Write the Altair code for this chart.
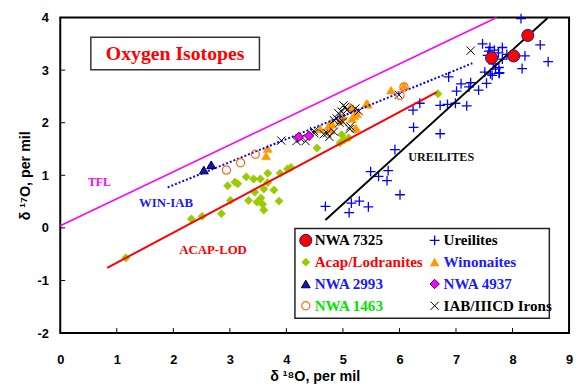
import altair as alt
import pandas as pd

# ---------------- data ----------------
nwa7325_x = [7.63, 8.02, 8.27]
nwa7325_y = [3.23, 3.27, 3.66]

ureil_x = [8.15, 7.47, 7.60, 7.82, 8.49, 8.63, 8.22, 8.17, 7.56, 7.82, 7.51, 7.61, 7.76, 7.70,
           7.09, 7.26, 7.23, 7.40, 7.54, 7.01, 7.19, 6.87, 6.72, 6.85, 6.99, 6.36, 6.24, 6.25,
           6.72, 5.92, 5.49, 5.63, 5.80, 5.78, 6.01, 4.69, 5.15, 5.29, 5.11, 5.45,
           7.68, 7.75, 7.90, 7.66, 7.58, 7.76, 7.64, 7.77]
ureil_y = [3.98, 3.50, 3.43, 3.43, 3.48, 3.16, 3.27, 3.03, 3.28, 3.21, 2.96, 2.93, 2.94, 3.02,
           2.74, 2.76, 2.68, 2.62, 2.75, 2.60, 2.32, 2.87, 2.33, 2.35, 2.37, 2.37, 2.24, 1.91,
           1.79, 1.49, 1.07, 0.98, 1.09, 0.90, 0.63, 0.41, 0.47, 0.51, 0.29, 0.40,
           3.38, 3.33, 3.30, 3.12, 3.36, 3.05, 2.90, 2.95]

acap_x = [1.16, 2.32, 2.51, 2.85, 2.96, 3.01, 3.09, 3.14, 3.29, 3.33, 3.42, 3.44, 3.48, 3.54,
          3.55, 3.58, 3.60, 3.67, 3.60, 3.67, 3.78, 3.87, 3.89, 4.02, 4.08, 4.54, 4.98, 5.02,
          5.10, 5.22, 4.95, 6.68]
acap_y = [-0.57, 0.17, 0.22, 0.27, 0.80, 0.52, 0.87, 0.84, 0.97, 0.52, 0.93, 0.68, 0.49, 0.93,
          0.57, 0.45, 0.74, 1.04, 0.34, 0.86, 0.72, 0.51, 1.04, 1.12, 1.15, 1.52, 1.77, 1.67,
          1.71, 1.87, 1.62, 2.55]

win_x = [3.67, 3.64, 4.60, 4.74, 4.79, 4.81, 4.78, 5.16, 5.18, 5.25, 5.20, 5.13, 5.42, 5.44,
         5.23, 5.85, 6.08, 4.95, 5.00]
win_y = [1.51, 1.37, 1.88, 1.93, 2.00, 1.97, 1.87, 2.08, 2.27, 2.17, 2.13, 2.30, 2.37, 2.35,
         1.90, 2.62, 2.70, 2.05, 2.12]

nwa2993_x = [2.54, 2.67]
nwa2993_y = [1.10, 1.20]

nwa1463_x = [2.94, 3.19, 3.45, 6.01, 6.08]
nwa1463_y = [1.10, 1.24, 1.40, 2.52, 2.68]

nwa4937_x = [4.22, 4.40]
nwa4937_y = [1.73, 1.75]

iab_x = [3.91, 4.18, 4.34, 4.49, 4.49, 4.72, 4.84, 4.89, 4.98, 5.01, 4.92, 5.07, 5.13, 5.00,
         5.04, 5.22, 5.28, 4.84, 4.94, 4.66, 4.76, 5.99, 7.26, 4.25, 5.12]
iab_y = [1.66, 1.65, 1.65, 1.84, 1.80, 1.80, 1.83, 2.08, 2.21, 2.33, 2.18, 2.24, 1.93, 2.02,
         2.30, 2.27, 2.22, 2.05, 2.00, 1.78, 1.73, 2.53, 3.37, 1.70, 1.88]

# reference lines (end points)
tfl_x, tfl_y = [0.0, 7.72], [0.04, 4.0]
acap_line_x, acap_line_y = [0.83, 6.66], [-0.76, 2.58]
win_line_x, win_line_y = [1.90, 7.29], [0.77, 3.13]
ure_line_x, ure_line_y = [4.69, 8.62], [0.15, 3.99]

x_ticks = list(range(0, 10))
y_ticks = list(range(-2, 5))

# ---------------- layout ----------------
W, H = 516, 320
SERIF = "Liberation Serif"
SANS = "Liberation Sans"

xsc = alt.Scale(domain=[0, 9], nice=False, zero=False)
ysc = alt.Scale(domain=[-2, 4], nice=False, zero=False)

X = alt.X("x:Q", scale=xsc, axis=alt.Axis(
    values=x_ticks, ticks=False, domain=False, grid=False, labelFlush=False, labelOverlap=False,
    labelExpr="'' + datum.value",
    labelFont=SANS, labelFontWeight="bold", labelFontSize=13, labelColor="black", labelPadding=21,
    title="δ ¹⁸O, per mil", titleFont=SANS, titleFontWeight="bold", titleFontSize=14.5,
    titleColor="black", titlePadding=3))
Y = alt.Y("y:Q", scale=ysc, axis=alt.Axis(
    values=y_ticks, ticks=False, domain=False, grid=False, labelFlush=False, labelOverlap=False,
    labelExpr="'' + datum.value",
    labelFont=SANS, labelFontWeight="bold", labelFontSize=13, labelColor="black", labelPadding=12,
    title="δ ¹⁷O, per mil", titleFont=SANS, titleFontWeight="bold", titleFontSize=14.5,
    titleColor="black", titlePadding=5))

PLUS = "M-1,0L1,0M0,-1L0,1"
CROSS = "M-1,-1L1,1M1,-1L-1,1"

styles = {
    "NWA 7325": dict(shape="circle", filled=True, fill="#ff0000", stroke="#1a1a80", strokeWidth=1, size=150),
    "Ureilites": dict(shape=PLUS, filled=False, stroke="#0000ff", strokeWidth=1.3, size=100),
    "Acap/Lodranites": dict(shape="diamond", filled=True, fill="#99cc00", stroke="#99cc00", strokeWidth=0.5, size=72),
    "Winonaites": dict(shape="triangle-up", filled=True, fill="#ff9900", stroke="#ff9900", strokeWidth=0.5, size=85),
    "NWA 2993": dict(shape="triangle-up", filled=True, fill="#1010d0", stroke="#000000", strokeWidth=1, size=80),
    "NWA 4937": dict(shape="diamond", filled=True, fill="#ff00ff", stroke="#400040", strokeWidth=1, size=90),
    "NWA 1463": dict(shape="circle", filled=False, stroke="#ff6a1a", strokeWidth=1.2, size=70),
    "IAB/IIICD Irons": dict(shape=CROSS, filled=False, stroke="#000000", strokeWidth=1, size=70),
}


def scatter(name, xs, ys):
    return alt.Chart(pd.DataFrame({"x": xs, "y": ys})).mark_point(opacity=1, **styles[name]).encode(x=X, y=Y)


def line(xs, ys, color, width=2, dash=None):
    kw = dict(color=color, strokeWidth=width)
    if dash:
        kw["strokeDash"] = dash
    return alt.Chart(pd.DataFrame({"x": xs, "y": ys})).mark_line(**kw).encode(x=X, y=Y)


one = pd.DataFrame({"a": [0]})


def label(text, px, py, color, size, align="center", font=SERIF):
    return alt.Chart(one).mark_text(
        text=text, font=font, fontWeight="bold", fontSize=size, color=color,
        align=align, baseline="middle").encode(x=alt.value(px), y=alt.value(py))


# inward ticks (same shared scales and axes)
xt = alt.Chart(pd.DataFrame({"x": x_ticks})).mark_rule(color="black", strokeWidth=1).encode(
    x=X, y=alt.value(H), y2=alt.value(H - 5))
yt = alt.Chart(pd.DataFrame({"y": y_ticks})).mark_rule(color="black", strokeWidth=1).encode(
    y=Y, x=alt.value(0), x2=alt.value(5))

layers = [
    line(tfl_x, tfl_y, "#ff00ff", 1.5),
    scatter("Acap/Lodranites", acap_x, acap_y),
    scatter("Ureilites", ureil_x, ureil_y),
    line(acap_line_x, acap_line_y, "#ff0000", 2),
    line(ure_line_x, ure_line_y, "#000000", 2),
    scatter("Winonaites", win_x, win_y),
    scatter("IAB/IIICD Irons", iab_x, iab_y),
    line(win_line_x, win_line_y, "#0000ff", 2, [2, 2]),
    scatter("NWA 2993", nwa2993_x, nwa2993_y),
    scatter("NWA 1463", nwa1463_x, nwa1463_y),
    scatter("NWA 4937", nwa4937_x, nwa4937_y),
    scatter("NWA 7325", nwa7325_x, nwa7325_y),
    xt, yt,
]

# title box
layers.append(alt.Chart(one).mark_rect(fill="white", stroke="#333333", strokeWidth=1.5).encode(
    x=alt.value(31), x2=alt.value(202), y=alt.value(20), y2=alt.value(53)))
layers.append(label("Oxygen Isotopes", 116.5, 37, "#ff0000", 20))

# line annotations
layers.append(label("TFL", 39.7, 166.7, "#ff00ff", 12))
layers.append(label("WIN-IAB", 107.3, 187.7, "#1a1aff", 13))
layers.append(label("ACAP-LOD", 155, 235.7, "#ff0000", 13))
layers.append(label("UREILITES", 386.3, 141, "#111111", 12.3))

# legend
layers.append(alt.Chart(one).mark_rect(fill="white", stroke="#222222", strokeWidth=1.5).encode(
    x=alt.value(238), x2=alt.value(496), y=alt.value(214), y2=alt.value(305)))
legend_entries = [
    ("NWA 7325", "#000000"), ("Acap/Lodranites", "#ff0000"), ("NWA 2993", "#1a1aff"), ("NWA 1463", "#00e600"),
    ("Ureilites", "#000000"), ("Winonaites", "#1a1aff"), ("NWA 4937", "#1a1aff"), ("IAB/IIICD Irons", "#000000"),
]
for i, (name, tcolor) in enumerate(legend_entries):
    col, row = divmod(i, 4)
    sx = 249 + col * 130.7
    sy = 226 + row * 22.1
    st = dict(styles[name])
    layers.append(alt.Chart(one).mark_point(opacity=1, **st).encode(x=alt.value(sx), y=alt.value(sy)))
    layers.append(label(name, sx + 9, sy, tcolor, 15.3, align="left"))

chart = alt.layer(*layers).properties(
    width=W, height=H,
    autosize=alt.AutoSizeParams(type="none"),
    padding={"left": 53, "top": 7, "right": 4, "bottom": 50},
).configure_view(stroke="black", strokeWidth=2)

chart.save("out.html", embed_options={"renderer": "svg", "actions": False})
